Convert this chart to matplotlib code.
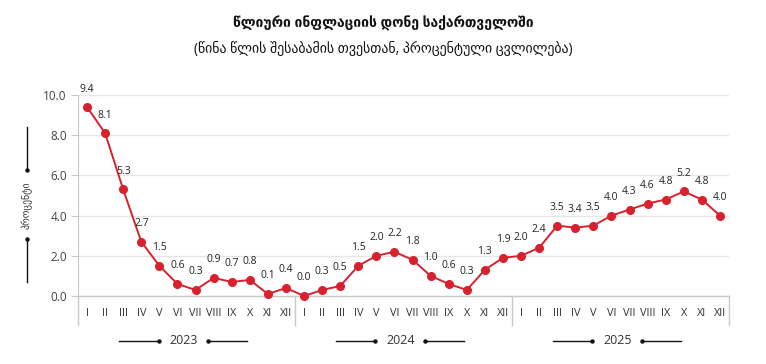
import matplotlib
matplotlib.use("Agg")
import matplotlib.pyplot as plt
import matplotlib.transforms as mtransforms

plt.rcParams['font.family'] = ['Open Sans', 'DejaVu Sans']

months = ["I", "II", "III", "IV", "V", "VI", "VII", "VIII", "IX", "X", "XI", "XII"]
years = ["2023", "2024", "2025"]
values_2023 = [9.4, 8.1, 5.3, 2.7, 1.5, 0.6, 0.3, 0.9, 0.7, 0.8, 0.1, 0.4]
values_2024 = [0.0, 0.3, 0.5, 1.5, 2.0, 2.2, 1.8, 1.0, 0.6, 0.3, 1.3, 1.9]
values_2025 = [2.0, 2.4, 3.5, 3.4, 3.5, 4.0, 4.3, 4.6, 4.8, 5.2, 4.8, 4.0]
yticks = [0, 2, 4, 6, 8, 10]

title = "წლიური ინფლაციის დონე საქართველოში"
subtitle = "(წინა წლის შესაბამის თვესთან, პროცენტული ცვლილება)"
ylabel = "პროცენტი"

values = values_2023 + values_2024 + values_2025
labels = months * len(years)
x = list(range(len(values)))

RED = "#d7222e"
GRID = "#e6e6e6"
AXC = "#c8c8c8"
TXT = "#333333"

fig = plt.figure(figsize=(7.66, 3.64), dpi=100)
ax = fig.add_axes([78/766, (364-296)/364, (729-78)/766, (296-95)/364])

ax.plot(x, values, color=RED, lw=1.4, marker="o", markersize=5.5, clip_on=False, zorder=3)
for xi, v in zip(x, values):
    ax.annotate(f"{v:.1f}", (xi, v), xytext=(0, 9), textcoords="offset points",
                ha="center", va="bottom", fontsize=7.5, color="#222222", zorder=4)

ax.set_xlim(-0.5, len(values) - 0.5)
ax.set_ylim(0, 10)
ax.set_yticks(yticks)
ax.set_yticklabels([f"{t:.1f}" for t in yticks], fontsize=8.5, color="#444444")
ax.yaxis.grid(True, color=GRID, lw=0.9)
ax.set_axisbelow(True)
ax.tick_params(axis="y", length=5, color=AXC, pad=3)
ax.set_xticks(x)
ax.set_xticklabels(labels, fontsize=7.8, color=TXT)
ax.tick_params(axis="x", length=0, pad=9)

for s in ["top", "right", "bottom"]:
    ax.spines[s].set_visible(False)
ax.spines["left"].set_color(AXC)
ax.spines["left"].set_bounds(0, 10)

trans = mtransforms.blended_transform_factory(ax.transData, ax.transAxes)
low = -(325-296)/(296-95)
ax.plot([-0.5, len(values) - 0.5], [0, 0], transform=trans, color=AXC, lw=1, clip_on=False)
for k in range(len(years) + 1):
    xv = -0.5 + 12 * k
    ax.plot([xv, xv], [low, 0], transform=trans, color=AXC, lw=1, clip_on=False)

# year labels with decorations
px = (729-78) / 36.0
yy = -(341-296)/(296-95)
for k, yr in enumerate(years):
    c = 5.5 + 12 * k - 3/px
    ax.text(c, yy, yr, transform=trans, ha="center", va="center", fontsize=9, color=TXT)
    a, b = 25/px, 64/px
    ax.plot([c-b, c-a], [yy, yy], transform=trans, color="#111111", lw=1, clip_on=False)
    ax.plot([c+a, c+b], [yy, yy], transform=trans, color="#111111", lw=1, clip_on=False)
    ax.plot([c-a, c+a], [yy, yy], transform=trans, ls="none", marker="o", markersize=2.2,
            color="#111111", clip_on=False)

# y label with decorations
fx = 27/766
fig.text(fx, 1-205/364, ylabel, rotation=90, ha="center", va="center", fontsize=7, color=TXT)
fig.add_artist(plt.Line2D([fx, fx], [1-127/364, 1-170/364], color="#111111", lw=1))
fig.add_artist(plt.Line2D([fx, fx], [1-239/364, 1-282/364], color="#111111", lw=1))
fig.add_artist(plt.Line2D([fx, fx], [1-170/364, 1-239/364], ls="none", marker="o",
                          markersize=2.2, color="#111111"))

fig.text(383/766, 1-23/364, title, ha="center", va="center", fontsize=10, fontweight="bold", color="#111111")
fig.text(383/766, 1-49/364, subtitle, ha="center", va="center", fontsize=10, color="#111111")

fig.savefig("out.png", dpi=100, facecolor="white")
